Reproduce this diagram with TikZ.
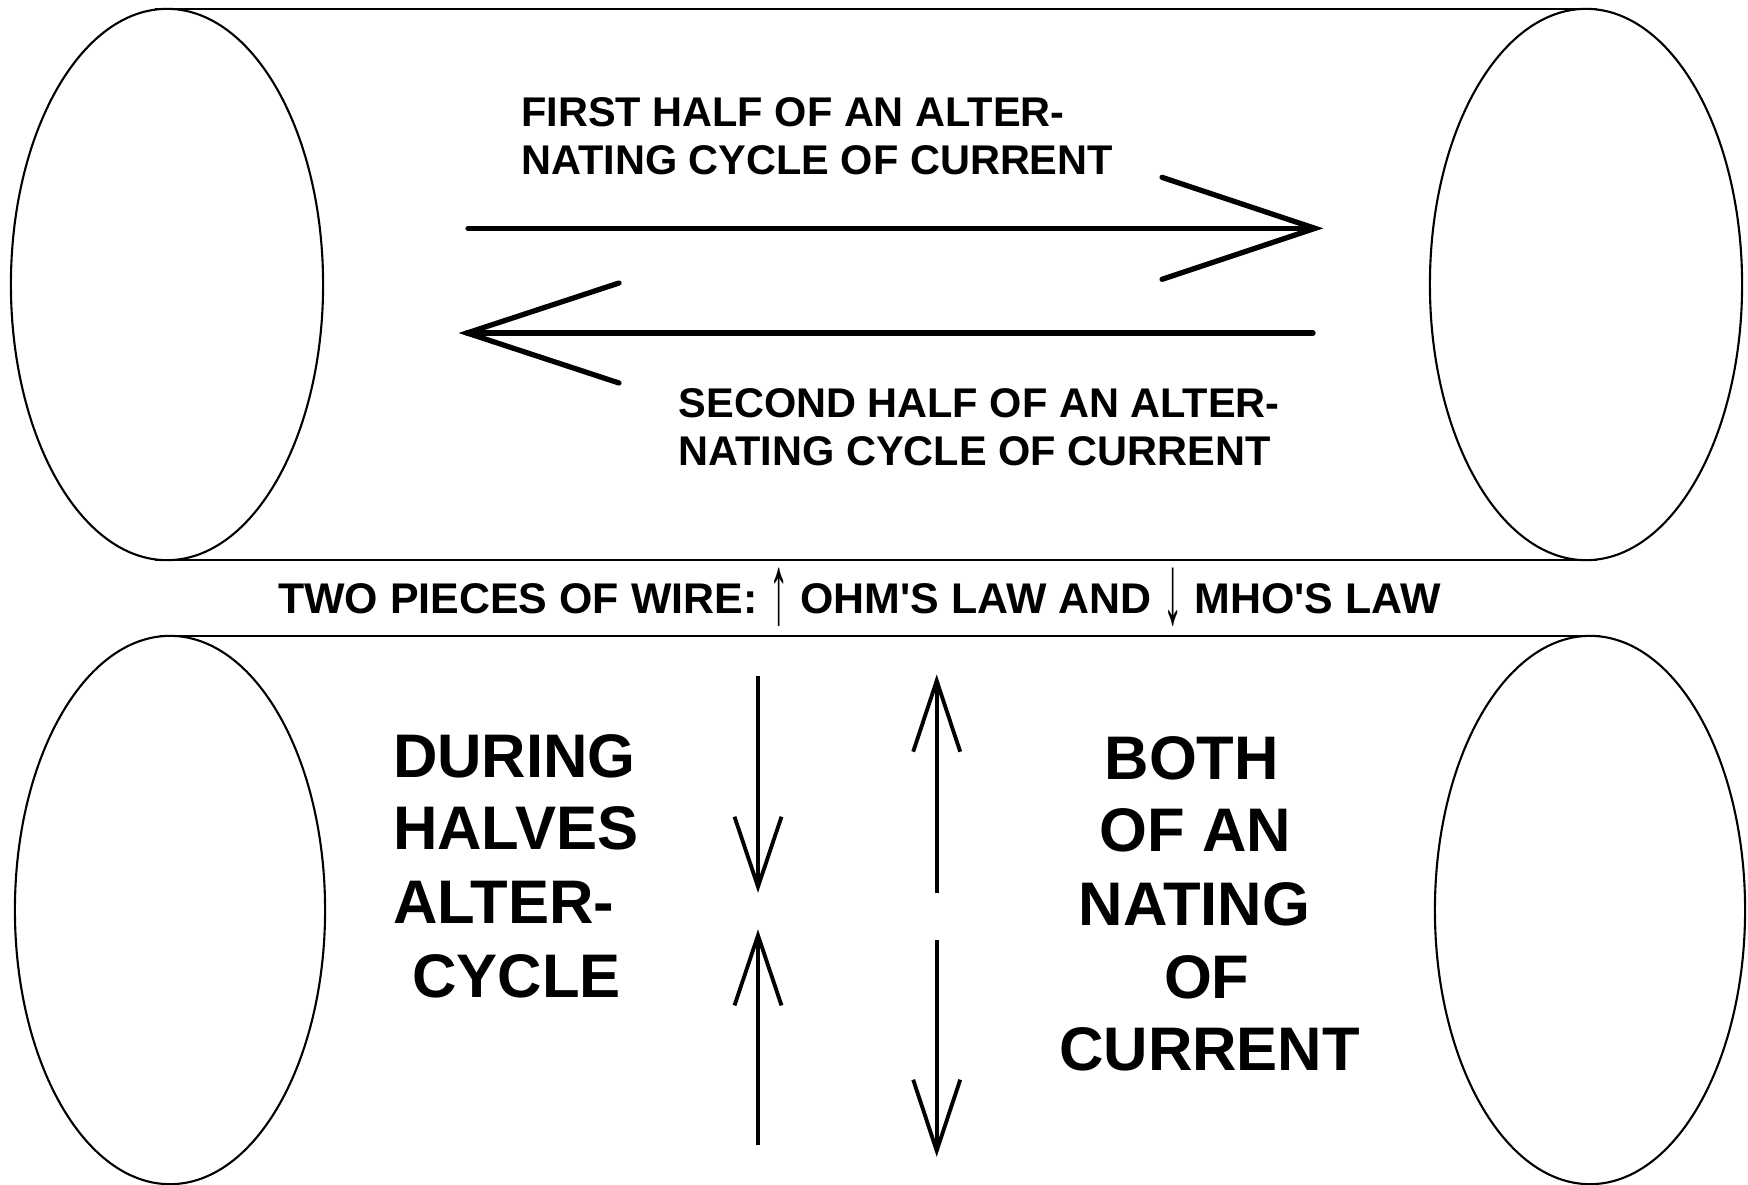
\documentclass[tikz,border=0pt]{standalone}
\usepackage{fontspec}
\setmainfont{Liberation Sans}
\newcommand{\tallarrow}[1]{\raisebox{-0.42ex}{\scalebox{0.9}[2.3]{\mdseries #1}}}
\begin{document}
\begin{tikzpicture}[x=0.01cm,y=-0.01cm,
  wire/.style={line width=0.6pt},
  bigarrow/.style={line width=1.5pt, line cap=round, line join=miter},
  vertarrow/.style={line width=1.1pt, line join=miter},
  smalltext/.style={font=\fontsize{11.8}{14}\selectfont\bfseries, inner sep=0pt},
  midtext/.style={font=\fontsize{12.2}{14}\selectfont\bfseries, inner sep=0pt},
  bigtext/.style={font=\fontsize{17.5}{20}\selectfont\bfseries, inner sep=0pt}]
\useasboundingbox[fill=white] (0,0) rectangle (1748,1184);

% top wire
\draw[wire] (167,284.5) ellipse [x radius=1.56cm, y radius=2.755cm];
\draw[wire] (1586,284.5) ellipse [x radius=1.56cm, y radius=2.755cm];
\draw[wire] (155,9) -- (1597,9);
\draw[wire] (155,560) -- (1597,560);

% bottom wire
\draw[wire] (170,910) ellipse [x radius=1.55cm, y radius=2.74cm];
\draw[wire] (1590,910) ellipse [x radius=1.55cm, y radius=2.74cm];
\draw[wire] (160,636) -- (1600,636);

% horizontal arrows
\coordinate (r1s) at (468,228.3);
\coordinate (r1t) at (1315,228.3);
\coordinate (l1s) at (1313,333);
\coordinate (l1t) at (467,333);
\draw[bigarrow] (r1s) -- (r1t);
\draw[bigarrow] (r1t) ++(-153,-51) -- (r1t) -- ++(-153,51);
\draw[bigarrow] (l1s) -- (l1t);
\draw[bigarrow] (l1t) ++(152,-50) -- (l1t) -- ++(152,50);

% vertical arrows
\coordinate (as) at (758,676);
\coordinate (at) at (758,886.7);
\coordinate (bs) at (758,1145);
\coordinate (bt) at (758,935.4);
\coordinate (cs) at (936.7,892.5);
\coordinate (ct) at (936.7,680.7);
\coordinate (ds) at (936.7,939.5);
\coordinate (dt) at (936.7,1150.7);
\draw[vertarrow] (as) -- (at);
\draw[vertarrow] (at) ++(-23.5,-70) -- (at) -- ++(23.5,-70);
\draw[vertarrow] (bs) -- (bt);
\draw[vertarrow] (bt) ++(-23.5,70) -- (bt) -- ++(23.5,70);
\draw[vertarrow] (cs) -- (ct);
\draw[vertarrow] (ct) ++(-23.5,71) -- (ct) -- ++(23.5,71);
\draw[vertarrow] (ds) -- (dt);
\draw[vertarrow] (dt) ++(-23.5,-71) -- (dt) -- ++(23.5,-71);

% texts
\node[smalltext, anchor=base west] (t1) at (520.6,126.4) {FIRST HALF OF AN ALTER-};
\node[smalltext, anchor=base west] (t2) at (520.6,174.3) {NATING CYCLE OF CURRENT};
\node[smalltext, anchor=base west] (t3) at (678,417) {SECOND HALF OF AN ALTER-};
\node[smalltext, anchor=base west] (t4) at (678,465) {NATING CYCLE OF CURRENT};

\node[midtext, anchor=base] (mid) at (859.5,613.6) {TWO PIECES OF WIRE: \tallarrow{↑} OHM\textquotesingle S LAW AND \tallarrow{↓} MHO\textquotesingle S LAW};

\node[bigtext, anchor=base west] (l1) at (392.4,777) {DURING};
\node[bigtext, anchor=base west] (l2) at (392.4,849.5) {HALVES};
\node[bigtext, anchor=base west] (l3) at (392.4,923) {ALTER-};
\node[bigtext, anchor=base west] (l4) at (411.4,997.8) {CYCLE};

\node[bigtext, anchor=base] (r1) at (1191.8,779.3) {BOTH};
\node[bigtext, anchor=base] (r2) at (1195.6,851.7) {OF AN};
\node[bigtext, anchor=base] (r3) at (1194.5,925.3) {NATING};
\node[bigtext, anchor=base] (r4) at (1206.8,998.9) {OF};
\node[bigtext, anchor=base] (r5) at (1209.6,1070.3) {CURRENT};
\end{tikzpicture}
\end{document}
